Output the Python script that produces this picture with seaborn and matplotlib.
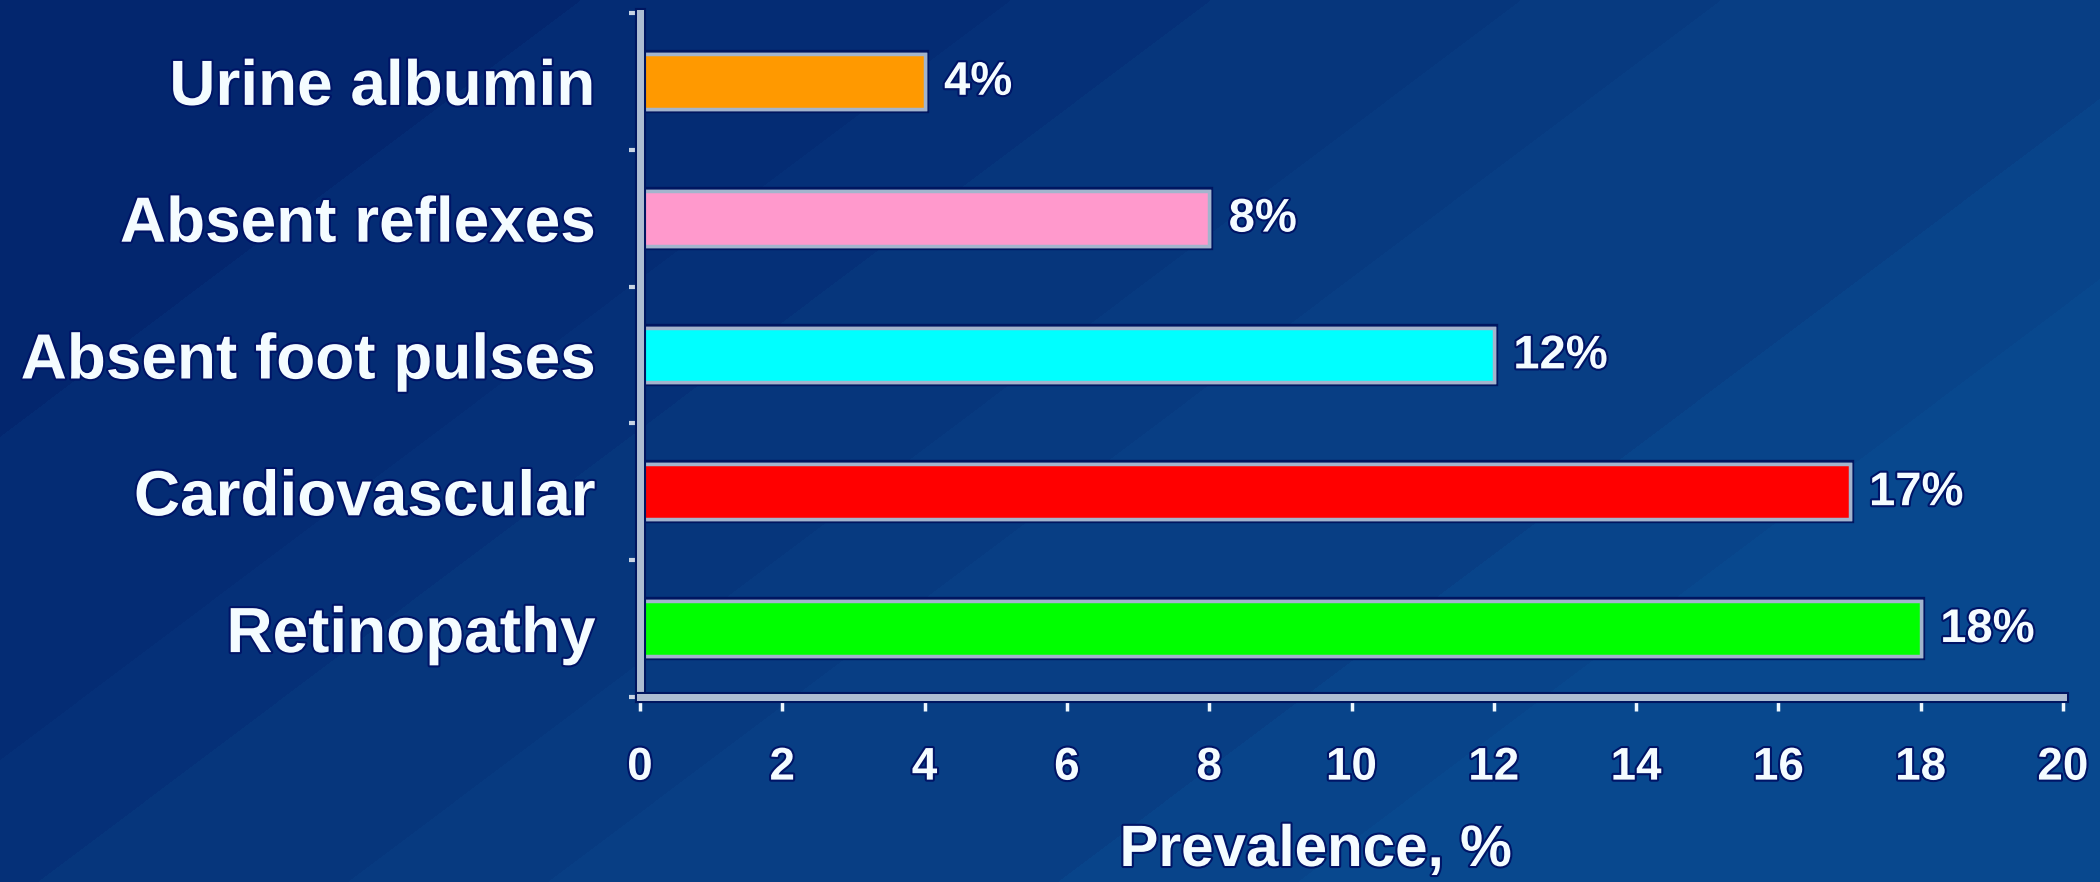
import numpy as np
import pandas as pd
import matplotlib
matplotlib.use("Agg")
import matplotlib.pyplot as plt
import matplotlib.patheffects as pe
from matplotlib.ticker import FixedLocator
import seaborn as sns

# Data
categories = ["Urine albumin", "Absent reflexes", "Absent foot pulses", "Cardiovascular", "Retinopathy"]
prevalence = [4, 8, 12, 17, 18]
value_labels = ["4%", "8%", "12%", "17%", "18%"]
bar_colors = ["#ff9900", "#ff99cc", "#00ffff", "#ff0000", "#00ff00"]
x_ticks = [0, 2, 4, 6, 8, 10, 12, 14, 16, 18, 20]
x_label = "Prevalence, %"

sns.set_style("white")
plt.rcParams["font.family"] = ["Liberation Sans", "DejaVu Sans"]
plt.rcParams["font.weight"] = "bold"

W, H, DPI = 2100, 882, 100
fig = plt.figure(figsize=(W / DPI, H / DPI), dpi=DPI)

# Slide background: dark navy with diagonal bands getting lighter to the lower right
yy, xx = np.mgrid[0:H, 0:W]
u = xx + 1.33 * yy
edges = [580, 1010, 1210, 1520, 1720, 2230, 2470]
band_cols = np.array([
    (3, 38, 110), (4, 44, 116), (5, 48, 120), (6, 54, 124),
    (7, 58, 128), (8, 62, 132), (8, 68, 138), (8, 72, 142)
]) / 255.0
idx = np.digitize(u, edges)
bg_img = band_cols[idx]
bg = fig.add_axes([0, 0, 1, 1], zorder=-10)
bg.imshow(bg_img, extent=(0, 1, 0, 1), aspect="auto", interpolation="nearest")
bg.axis("off")

# Plot area
ax = fig.add_axes([640 / W, 1 - 697 / H, (2063 - 640) / W, (697 - 13) / H])
ax.patch.set_alpha(0)

df = pd.DataFrame({"category": categories, "prevalence": prevalence})
sns.barplot(
    data=df, x="prevalence", y="category", hue="category",
    palette=bar_colors, legend=False, orient="h", width=0.4,
    edgecolor="#a3b4cd", linewidth=2.5, saturation=1, ax=ax,
)
shadow = [pe.withStroke(linewidth=6, foreground="#001660"), pe.Normal()]
for p in ax.patches:
    p.set_path_effects(shadow)

ax.set_xlim(0, 20)
ax.set_ylim(4.5, -0.5)

text_color = "#f4fcff"
text_fx = [pe.withStroke(linewidth=3, foreground="#001466")]

# Value labels at the end of each bar
for i, (v, lab) in enumerate(zip(prevalence, value_labels)):
    ax.annotate(lab, xy=(v, i), xytext=(14, -1), textcoords="offset points",
                ha="left", va="center", fontsize=34, fontweight="bold",
                color=text_color, path_effects=text_fx)

# Axes styling
for side in ["top", "right"]:
    ax.spines[side].set_visible(False)
spine_fx = [pe.withStroke(linewidth=8, foreground="#001660"), pe.Normal()]
for side in ["left", "bottom"]:
    ax.spines[side].set_color("#adbdd2")
    ax.spines[side].set_linewidth(5)
    ax.spines[side].set_path_effects(spine_fx)
    ax.spines[side].set_capstyle("projecting")
    ax.spines[side].set_zorder(1.5)

ax.set_xticks(x_ticks)
ax.set_xticklabels([str(t) for t in x_ticks])
ax.tick_params(axis="x", which="major", bottom=True, direction="out", length=10,
               width=2.5, color="#eef8ff", labelsize=33, labelcolor=text_color, pad=25)
ax.yaxis.set_minor_locator(FixedLocator([-0.5, 0.5, 1.5, 2.5, 3.5, 4.5]))
ax.tick_params(axis="y", which="major", length=0, labelsize=46,
               labelcolor=text_color, pad=32)
ax.tick_params(axis="y", which="minor", direction="out", length=8, width=3,
               color="#c8d4e4", left=True)
for lbl in ax.get_xticklabels() + ax.get_yticklabels():
    lbl.set_fontweight("bold")
    lbl.set_path_effects(text_fx)

ax.set_ylabel("")
ax.set_xlabel(x_label, fontsize=42, fontweight="bold", color=text_color,
              path_effects=text_fx)
ax.xaxis.label.set_va("baseline")
ax.xaxis.set_label_coords(0.475, (H - 866 - (H - 697)) / (697 - 13))

fig.savefig("out.png", dpi=DPI)
